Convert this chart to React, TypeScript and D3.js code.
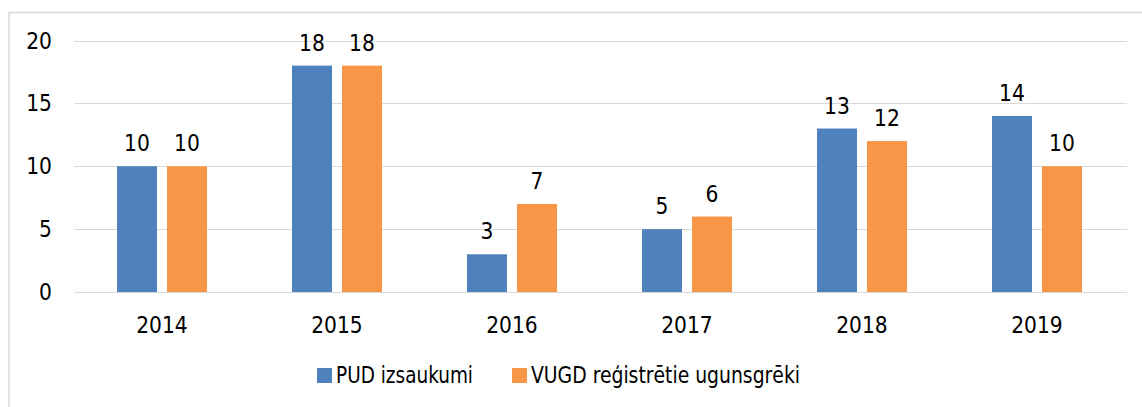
import React from 'react';
import * as d3 from 'd3';

const years: string[] = ['2014', '2015', '2016', '2017', '2018', '2019'];
const pudValues: number[] = [10, 18, 3, 5, 13, 14];
const vugdValues: number[] = [10, 18, 7, 6, 12, 10];
const yTicks: number[] = [0, 5, 10, 15, 20];
const seriesNames: string[] = ['PUD izsaukumi', 'VUGD reģistrētie ugunsgrēki'];
const seriesColors: string[] = ['#4F81BD', '#F79646'];

const W = 1142;
const H = 407;
const FONT = '"DejaVu Sans Condensed", "DejaVu Sans", sans-serif';

const App: React.FC = () => {
  // x bands, one per year
  const x = d3.scaleBand<string>()
    .domain(years)
    .range([74.5, 1124.5])
    .paddingInner(0)
    .paddingOuter(0);

  const y = d3.scaleLinear()
    .domain([0, 20])
    .range([292, 40.5]);

  const barW = 40;
  const gap = 10;
  const series = [pudValues, vugdValues];

  return (
    <div style={{ position: 'absolute', left: 0, top: 0 }}>
      <svg width={W} height={H} style={{ display: 'block' }}>
        <rect x={0} y={0} width={W} height={H} fill="#fff" />
        {/* chart frame */}
        <rect x={9} y={12.5} width={W + 20} height={H + 20} fill="none" stroke="#D9D9D9" strokeWidth={1.5} />

        {/* grid + y labels */}
        {yTicks.map(t => (
          <g key={t}>
            <line x1={74.5} x2={1127} y1={Math.round(y(t)) + 0.5} y2={Math.round(y(t)) + 0.5}
              stroke="#D9D9D9" strokeWidth={1} />
            <text x={52} y={y(t) + 8} textAnchor="end" fontFamily={FONT} fontSize={22.5} fill="#000">
              {t}
            </text>
          </g>
        ))}

        {/* bars */}
        {series.map((vals, si) => (
          <g key={si}>
            {years.map((yr, i) => {
              const cx = (x(yr) as number) + x.bandwidth() / 2;
              const bx = si === 0 ? cx - gap / 2 - barW : cx + gap / 2;
              return (
                <g key={yr}>
                  <rect x={bx} y={y(vals[i])} width={barW} height={y(0) - y(vals[i])} fill={seriesColors[si]} />
                  <text x={bx + barW / 2} y={y(vals[i]) - 15} textAnchor="middle" fontFamily={FONT} fontSize={22.5} fill="#000">
                    {vals[i]}
                  </text>
                </g>
              );
            })}
          </g>
        ))}

        {/* x labels */}
        {years.map(yr => (
          <text key={yr} x={(x(yr) as number) + x.bandwidth() / 2} y={333} textAnchor="middle"
            fontFamily={FONT} fontSize={22.5} fill="#000">
            {yr}
          </text>
        ))}

        {/* legend */}
        <rect x={317} y={368} width={15} height={15} fill={seriesColors[0]} />
        <text x={336} y={383} fontFamily={FONT} fontSize={22.5} fill="#000"
          textLength={137} lengthAdjust="spacingAndGlyphs">{seriesNames[0]}</text>
        <rect x={512} y={368} width={15} height={15} fill={seriesColors[1]} />
        <text x={531} y={383} fontFamily={FONT} fontSize={22.5} fill="#000"
          textLength={269} lengthAdjust="spacingAndGlyphs">{seriesNames[1]}</text>
      </svg>
    </div>
  );
};

export default App;
